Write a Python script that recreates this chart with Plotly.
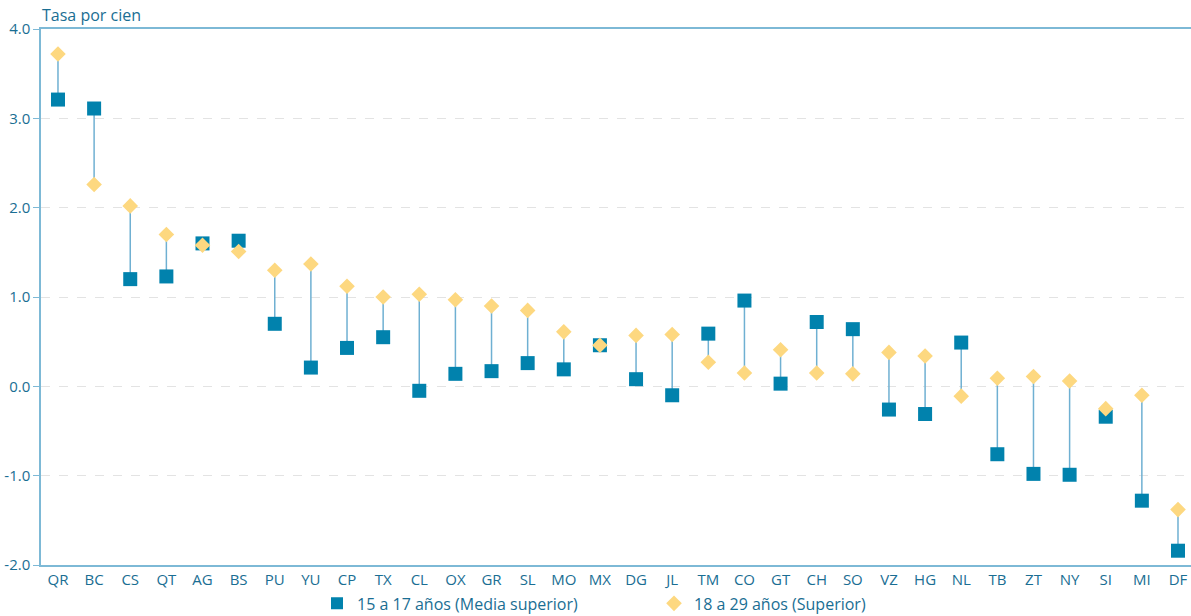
import plotly.graph_objects as go

categories = ["QR", "BC", "CS", "QT", "AG", "BS", "PU", "YU", "CP", "TX", "CL", "OX", "GR", "SL", "MO", "MX",
              "DG", "JL", "TM", "CO", "GT", "CH", "SO", "VZ", "HG", "NL", "TB", "ZT", "NY", "SI", "MI", "DF"]
media_superior = [3.21, 3.11, 1.20, 1.23, 1.60, 1.63, 0.70, 0.21, 0.43, 0.55, -0.05, 0.14, 0.17, 0.26, 0.19, 0.46,
                  0.08, -0.10, 0.59, 0.96, 0.03, 0.72, 0.64, -0.26, -0.31, 0.49, -0.76, -0.98, -0.99, -0.34, -1.28, -1.84]
superior = [3.72, 2.26, 2.02, 1.70, 1.58, 1.51, 1.30, 1.37, 1.12, 1.00, 1.03, 0.97, 0.90, 0.85, 0.61, 0.46,
            0.57, 0.58, 0.27, 0.15, 0.41, 0.15, 0.14, 0.38, 0.34, -0.11, 0.09, 0.11, 0.06, -0.25, -0.10, -1.38]

y_tickvals = [-2, -1, 0, 1, 2, 3, 4]
y_ticktext = ["-2.0", "-1.0", "0.0", "1.0", "2.0", "3.0", "4.0"]

name_a = "15 a 17 años (Media superior)"
name_b = "18 a 29 años (Superior)"
title_text = "Tasa por cien"

TEXT = "#1a6e93"
AXIS = "#7db9d6"
SQ = "#0182ad"
DM = "#fdd880"
CONN = "#6fb0d2"

lx, ly = [], []
for c, a, b in zip(categories, media_superior, superior):
    lx += [c, c, None]
    ly += [a, b, None]

fig = go.Figure()
fig.add_trace(go.Scatter(x=lx, y=ly, mode="lines", line=dict(color=CONN, width=1.5),
                         showlegend=False, hoverinfo="skip"))
fig.add_trace(go.Scatter(x=categories, y=media_superior, mode="markers", name=name_a,
                         marker=dict(symbol="square", size=14, color=SQ)))
fig.add_trace(go.Scatter(x=categories, y=superior, mode="markers", name=name_b,
                         marker=dict(symbol="diamond", size=12, color=DM)))

fig.update_layout(
    width=1191, height=616,
    margin=dict(l=41, r=0, t=29, b=51, autoexpand=False),
    plot_bgcolor="white", paper_bgcolor="white",
    font=dict(family="Open Sans, Noto Sans, sans-serif", size=15, color=TEXT),
    showlegend=True,
    legend=dict(orientation="h", x=0.24, xanchor="left", yref="container", y=0.048, yanchor="top",
                font=dict(size=16, color=TEXT), entrywidth=292, entrywidthmode="pixels",
                bgcolor="rgba(0,0,0,0)",
                itemsizing="constant", traceorder="normal", borderwidth=0),
    xaxis=dict(type="category", categoryorder="array", categoryarray=categories, automargin=False,
               range=[-0.47, 31.36], showgrid=False, showline=True, linecolor=AXIS, linewidth=2,
               mirror=True, ticks="", tickfont=dict(size=15, color=TEXT)),
    yaxis=dict(range=[-2, 4], tickmode="array", tickvals=y_tickvals, ticktext=y_ticktext, automargin=False,
               showgrid=True, gridcolor="#e3e3e3",
               griddash="dash", gridwidth=1, zeroline=False, showline=True, linecolor=AXIS,
               linewidth=1.5, ticks="outside", ticklen=6, tickcolor=AXIS,
               tickfont=dict(size=15, color=TEXT)),
    annotations=[dict(text=title_text, xref="paper", yref="paper", x=-0.001, y=1.0, xanchor="left",
                      yanchor="bottom", yshift=1, showarrow=False, font=dict(size=16, color=TEXT))],
)

fig.write_html("out.html", config={"displayModeBar": False},
               post_script="document.body.style.margin='0';")
